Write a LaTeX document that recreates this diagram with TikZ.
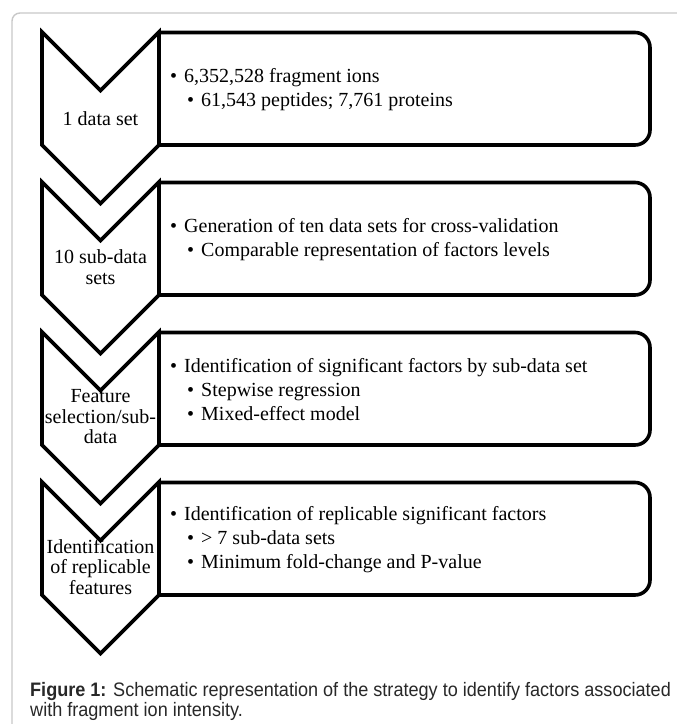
\documentclass[tikz,border=0pt]{standalone}
\usepackage{fontspec}
\setmainfont{Liberation Serif}
\newfontfamily\capfont[FakeStretch=0.927]{Liberation Sans}
\definecolor{framegray}{RGB}{200,200,200}
\definecolor{captext}{RGB}{40,40,40}
\tikzset{
  chev/.style={draw=black, line width=3.6pt, line join=miter, fill=white},
  boxline/.style={draw=black, line width=3.6pt, line join=miter},
  chevlabel/.style={align=center, inner sep=0pt, font=\fontsize{20}{20.5}\selectfont},
  boxtext/.style={anchor=west, align=left, inner sep=0pt, font=\fontsize{20}{24}\selectfont},
  captxt/.style={anchor=base west, inner sep=0pt, text=captext, font=\capfont\fontsize{19.5}{20}\selectfont}
}
\newcommand{\bul}{\textbullet\hspace{7pt}}
\newcommand{\subbul}{\hspace{17pt}\textbullet\hspace{7pt}}
\begin{document}
\begin{tikzpicture}[x=1pt,y=1pt]
\useasboundingbox (0,0) rectangle (677,724);
\fill[white] (0,0) rectangle (677,724);
% outer frame
\draw[framegray, line width=1.4pt] (12,-5) -- (12,703) arc[start angle=180,end angle=90,radius=8] -- (690,711);
% boxes and chevrons
\foreach \i in {0,1,2,3}{
  \begin{scope}[yshift={-150*\i}]
    \draw[boxline] (159,691.5) -- (635,691.5) arc[start angle=90,end angle=0,radius=15]
      -- (650,594) arc[start angle=0,end angle=-90,radius=15] -- (159,579);
    \draw[chev] (42,692) -- (100.5,633.5) -- (159,692) -- (159,579) -- (100.5,520.5) -- (42,579) -- cycle;
  \end{scope}
}
% chevron labels
\node[chevlabel] (l1) at (100.5,605) {1 data set};
\node[chevlabel] (l2) at (100.5,457) {10 sub-data\\sets};
\node[chevlabel] (l3) at (100.5,307) {Feature\\selection/sub-\\data};
\node[chevlabel] (l4) at (100.5,157) {Identification\\of replicable\\features};
% box texts
\node[boxtext] (t1) at (170,634.5) {\bul 6,352,528 fragment ions\\ \subbul 61,543 peptides; 7,761 proteins};
\node[boxtext] (t2) at (170,484.5) {\bul Generation of ten data sets for cross-validation\\ \subbul Comparable representation of factors levels};
\node[boxtext] (t3) at (170,334.5) {\bul Identification of significant factors by sub-data set\\ \subbul Stepwise regression\\ \subbul Mixed-effect model};
\node[boxtext] (t4) at (170,184.5) {\bul Identification of replicable significant factors\\ \subbul > 7 sub-data sets\\ \subbul Minimum fold-change and P-value};
% caption
\node[captxt] (c1) at (30,27.3) {\textbf{Figure 1:} Schematic representation of the strategy to identify factors associated};
\node[captxt] (c2) at (30,7.3) {with fragment ion intensity.};
\end{tikzpicture}
\end{document}
